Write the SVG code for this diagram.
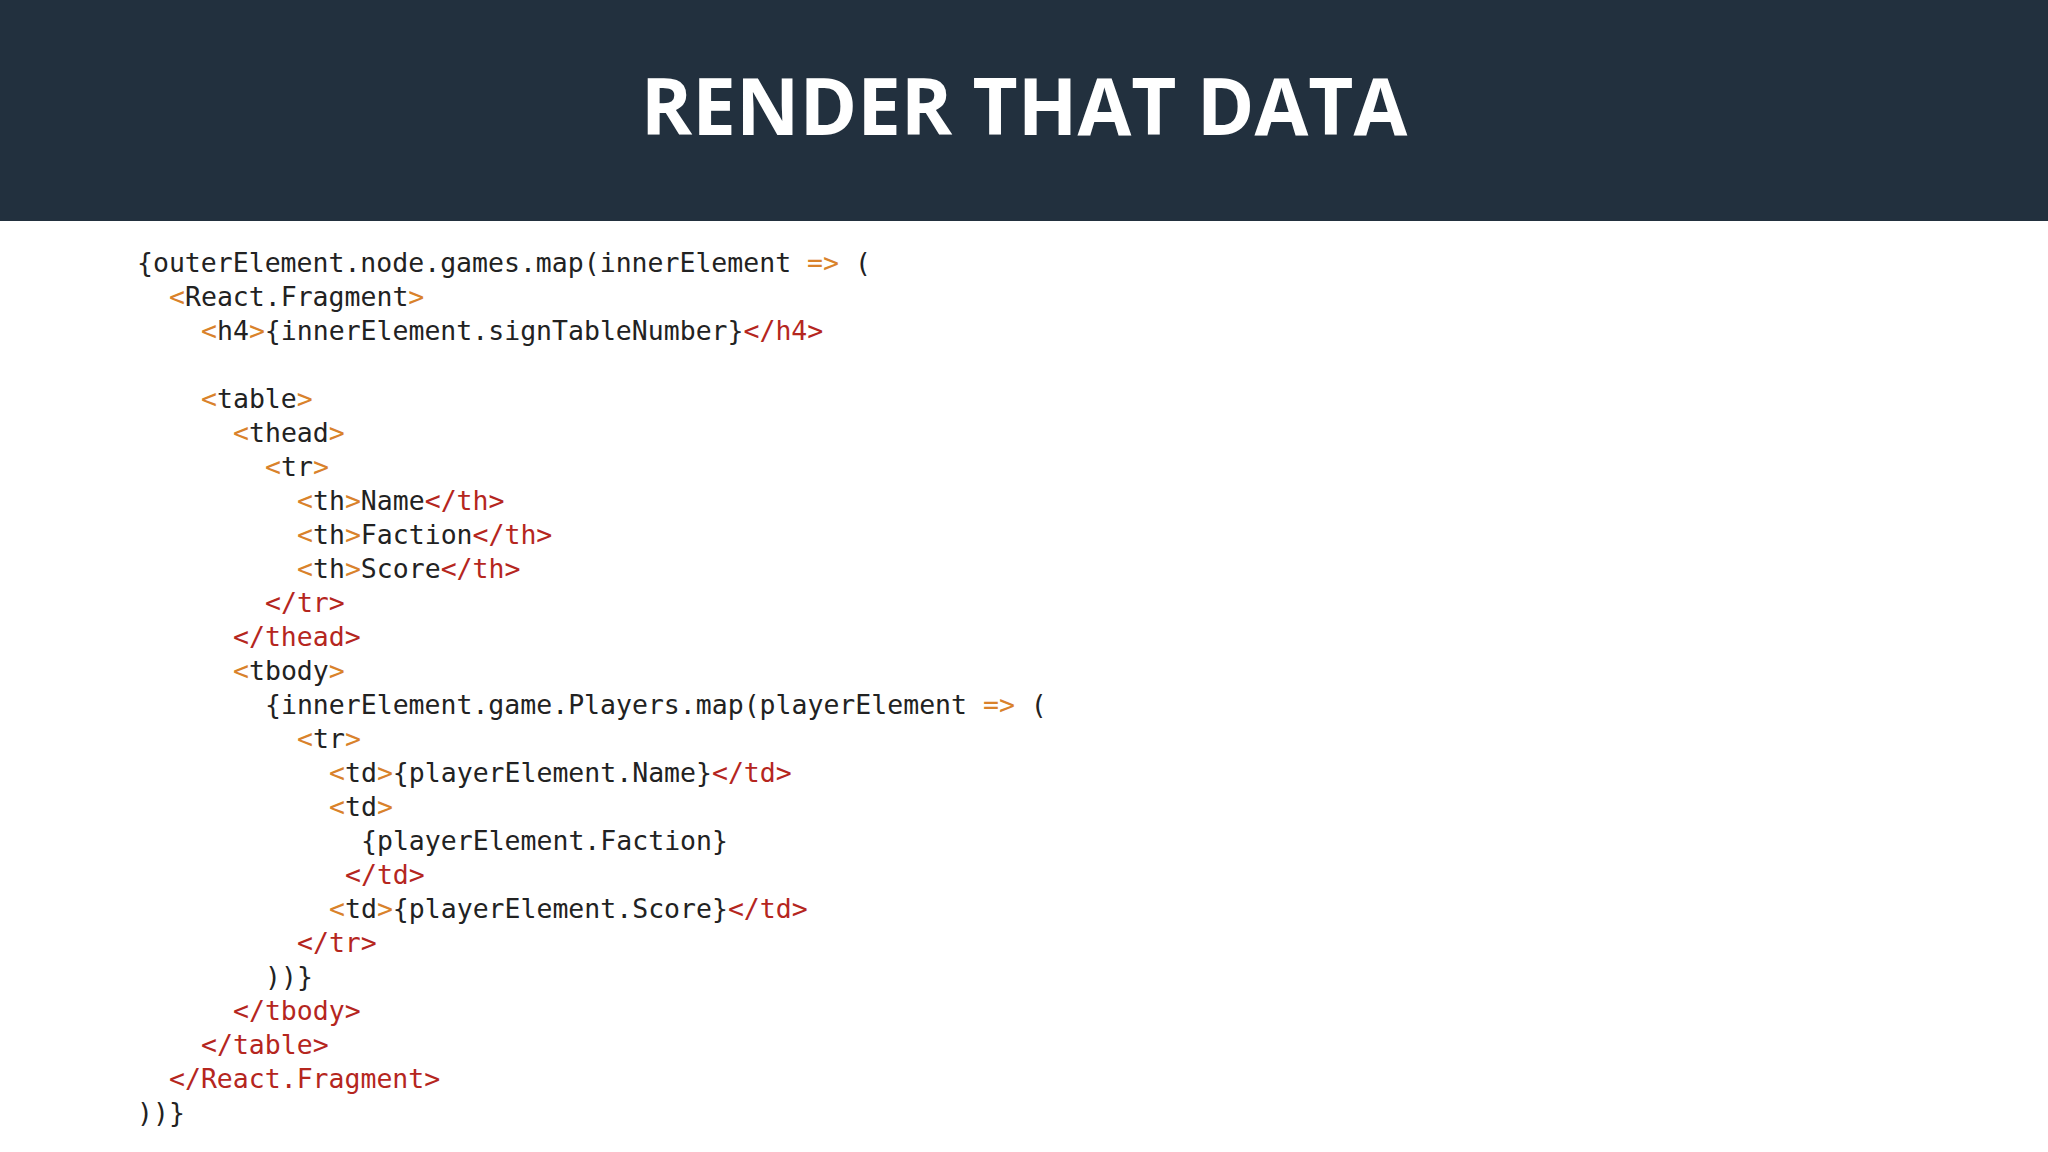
<svg xmlns="http://www.w3.org/2000/svg" width="2048" height="1152" viewBox="0 0 2048 1152">
<style>
.c{font-family:"DejaVu Sans Mono","Liberation Mono",monospace;font-size:26.5px;fill:#222}
.o{fill:#d9822b}.r{fill:#b5261e}
.t{font-family:"Open Sans","Liberation Sans",sans-serif;font-weight:bold;font-size:78px;fill:#fff}
</style>
<rect width="2048" height="1152" fill="#fff"/>
<g id="header"><rect width="2048" height="221" fill="#22303e"/>
<text class="t" x="1024" y="135" text-anchor="middle">RENDER THAT DATA</text></g>
<g id="code" class="c" xml:space="preserve">
<text x="137" y="272">{outerElement.node.games.map(innerElement <tspan class="o">=&gt;</tspan> (</text>
<text x="169" y="306"><tspan class="o">&lt;</tspan>React.Fragment<tspan class="o">&gt;</tspan></text>
<text x="201" y="340"><tspan class="o">&lt;</tspan>h4<tspan class="o">&gt;</tspan>{innerElement.signTableNumber}<tspan class="r">&lt;/h4&gt;</tspan></text>
<text x="201" y="408"><tspan class="o">&lt;</tspan>table<tspan class="o">&gt;</tspan></text>
<text x="233" y="442"><tspan class="o">&lt;</tspan>thead<tspan class="o">&gt;</tspan></text>
<text x="265" y="476"><tspan class="o">&lt;</tspan>tr<tspan class="o">&gt;</tspan></text>
<text x="297" y="510"><tspan class="o">&lt;</tspan>th<tspan class="o">&gt;</tspan>Name<tspan class="r">&lt;/th&gt;</tspan></text>
<text x="297" y="544"><tspan class="o">&lt;</tspan>th<tspan class="o">&gt;</tspan>Faction<tspan class="r">&lt;/th&gt;</tspan></text>
<text x="297" y="578"><tspan class="o">&lt;</tspan>th<tspan class="o">&gt;</tspan>Score<tspan class="r">&lt;/th&gt;</tspan></text>
<text x="265" y="612" class="r">&lt;/tr&gt;</text>
<text x="233" y="646" class="r">&lt;/thead&gt;</text>
<text x="233" y="680"><tspan class="o">&lt;</tspan>tbody<tspan class="o">&gt;</tspan></text>
<text x="265" y="714">{innerElement.game.Players.map(playerElement <tspan class="o">=&gt;</tspan> (</text>
<text x="297" y="748"><tspan class="o">&lt;</tspan>tr<tspan class="o">&gt;</tspan></text>
<text x="329" y="782"><tspan class="o">&lt;</tspan>td<tspan class="o">&gt;</tspan>{playerElement.Name}<tspan class="r">&lt;/td&gt;</tspan></text>
<text x="329" y="816"><tspan class="o">&lt;</tspan>td<tspan class="o">&gt;</tspan></text>
<text x="361" y="850">{playerElement.Faction}</text>
<text x="345" y="884" class="r">&lt;/td&gt;</text>
<text x="329" y="918"><tspan class="o">&lt;</tspan>td<tspan class="o">&gt;</tspan>{playerElement.Score}<tspan class="r">&lt;/td&gt;</tspan></text>
<text x="297" y="952" class="r">&lt;/tr&gt;</text>
<text x="265" y="986">))}</text>
<text x="233" y="1020" class="r">&lt;/tbody&gt;</text>
<text x="201" y="1054" class="r">&lt;/table&gt;</text>
<text x="169" y="1088" class="r">&lt;/React.Fragment&gt;</text>
<text x="137" y="1122">))}</text>
</g>
</svg>
